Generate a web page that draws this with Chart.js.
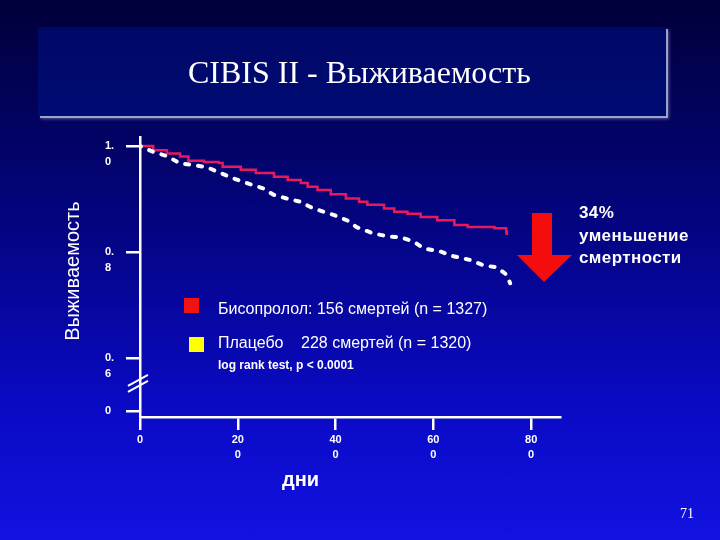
<!DOCTYPE html>
<html>
<head>
<meta charset="utf-8">
<script src="https://cdn.jsdelivr.net/npm/chart.js@4.4.0/dist/chart.umd.min.js"></script>
<style>
  html, body { margin: 0; padding: 0; }
  body {
    width: 720px; height: 540px; overflow: hidden; position: relative;
    background: linear-gradient(to bottom, #00003a 0%, #04047e 40%, #0a0ac4 75%, #1212e2 100%);
    font-family: "Liberation Sans", Arial, sans-serif; color: #fff;
  }
  #chart { position: absolute; left: 0; top: 0; z-index: 2; }
  .abs { position: absolute; white-space: pre; z-index: 3; }
  .titlebox {
    position: absolute; left: 38px; top: 27px; width: 628px; height: 89px; z-index: 1;
    background: linear-gradient(to bottom, #000866, #000c74);
    box-shadow: 2px 2px 0 #9ca2c8, 3px 3px 3px rgba(160,165,210,0.5);
  }
  .title { left: 188px; top: 54px; height: 40px; line-height: 40px; font: 32px "Liberation Serif", "Times New Roman", serif; }
  .xtitle { left: 282px; top: 467px; height: 24px; line-height: 24px; font-size: 20px; font-weight: bold; }
  .page { left: 680px; top: 506px; height: 20px; line-height: 20px; font: 14px "Liberation Serif", serif; }
  .sq { position: absolute; width: 15px; height: 15px; z-index: 3; }
  .leg { font-size: 16px; height: 20px; line-height: 20px; }
  .note { font-size: 12px; font-weight: bold; height: 14px; line-height: 14px; }
  .arrtxt { left: 579px; font-size: 17px; font-weight: bold; height: 22px; line-height: 22px; letter-spacing: 0.4px; }
  svg { position: absolute; left: 0; top: 0; z-index: 1; }
</style>
</head>
<body>
<canvas id="chart" width="720" height="540"></canvas>

<div class="titlebox"></div>
<div class="abs title">CIBIS II - Выживаемость</div>
<div class="abs xtitle">дни</div>
<div class="abs page">71</div>

<div class="sq" style="left:184px;top:298px;background:#f21212;"></div>
<div class="abs leg" style="left:218px;top:299px;">Бисопролол: 156 смертей (n = 1327)</div>
<div class="sq" style="left:189px;top:337px;background:#ffff00;"></div>
<div class="abs leg" style="left:218px;top:333px;">Плацебо</div>
<div class="abs leg" style="left:301px;top:333px;">228 смертей (n = 1320)</div>
<div class="abs note" style="left:218px;top:358px;">log rank test, p &lt; 0.0001</div>

<svg width="720" height="540">
  <polygon points="532,213 552,213 552,255 572,255 544,282 517,255 532,255" fill="#f50d0d"/>
</svg>
<div class="abs arrtxt" style="top:202px;">34%</div>
<div class="abs arrtxt" style="top:225px;">уменьшение</div>
<div class="abs arrtxt" style="top:247px;">смертности</div>

<script>
// Бисопролол (Kaplan-Meier, ступенчатая)
const bisoDays = [0, 27, 55, 82, 99, 131, 161, 169, 206, 237, 274, 302, 329, 343, 363, 390, 421, 448, 465, 499, 520, 547, 574, 608, 643, 670, 725, 749, 750];
const bisoSurv = [1.0, 0.992, 0.986, 0.98, 0.972, 0.97, 0.968, 0.961, 0.955, 0.949, 0.942, 0.936, 0.93, 0.923, 0.917, 0.909, 0.901, 0.895, 0.889, 0.882, 0.876, 0.872, 0.866, 0.86, 0.851, 0.847, 0.845, 0.838, 0.832];

// Плацебо
const placDays = [0, 27, 55, 82, 109, 137, 157, 191, 225, 252, 273, 300, 327, 355, 396, 423, 443, 477, 511, 532, 559, 580, 614, 641, 675, 702, 730, 750, 757];
const placSurv = [1.0, 0.989, 0.981, 0.967, 0.964, 0.96, 0.952, 0.939, 0.928, 0.92, 0.908, 0.901, 0.895, 0.882, 0.87, 0.86, 0.847, 0.835, 0.829, 0.828, 0.82, 0.807, 0.801, 0.792, 0.785, 0.775, 0.771, 0.757, 0.741];

// axis ticks (0.5 stands in for the broken "0")
const xTicks = [0, 200, 400, 600, 800];
const xTickLabels = [["0", ""], ["20", "0"], ["40", "0"], ["60", "0"], ["80", "0"]];
const yTicks = [0.5, 0.6, 0.8, 1.0];
const yTickLabels = [["0", ""], ["0.", "6"], ["0.", "8"], ["1.", "0"]];

const toPoints = (xs, ys) => xs.map((x, i) => ({ x, y: ys[i] }));

// the "//" break marks and the rotated y title
const axisExtras = {
    id: "axisExtras",
    afterDraw(chart) {
        const { ctx, chartArea, scales } = chart;
        const yc = scales.y.getPixelForValue(0.553);
        const x0 = chartArea.left;
        ctx.save();
        ctx.strokeStyle = "#fff";
        ctx.lineWidth = 2;
        [-3, 3].forEach((d) => {
            ctx.beginPath();
            ctx.moveTo(x0 - 12, yc + d + 6);
            ctx.lineTo(x0 + 8, yc + d - 5);
            ctx.stroke();
        });
        ctx.translate(x0 - 67, scales.y.getPixelForValue(0.764));
        ctx.rotate(-Math.PI / 2);
        ctx.fillStyle = "#fff";
        ctx.font = "20px 'Liberation Sans', Arial, sans-serif";
        ctx.textAlign = "center";
        ctx.textBaseline = "middle";
        ctx.fillText("Выживаемость", 0, 0);
        ctx.restore();
    }
};

const tickFont = { family: "'Liberation Sans', Arial, sans-serif", size: 11, weight: "bold", lineHeight: 1.4 };

new Chart(document.getElementById("chart"), {
    type: "line",
    data: {
        datasets: [
            {
                label: "Плацебо",
                data: toPoints(placDays, placSurv),
                borderColor: "#ffffff",
                borderWidth: 4,
                borderDash: [4, 9],
                borderDashOffset: 3,
                borderCapStyle: "round",
                pointRadius: 0,
                tension: 0,
                order: 0,
            },
            {
                label: "Бисопролол",
                data: toPoints(bisoDays, bisoSurv),
                borderColor: "#e81a5c",
                borderWidth: 2.5,
                stepped: "before",
                pointRadius: 0,
                order: 1,
            },
        ],
    },
    options: {
        responsive: false,
        animation: false,
        layout: { padding: { left: 105, top: 137, right: 160, bottom: 73 } },
        plugins: { legend: { display: false }, tooltip: { enabled: false } },
        scales: {
            x: {
                type: "linear",
                min: 0,
                max: 859,
                afterBuildTicks: (s) => { s.ticks = xTicks.map((v) => ({ value: v })); },
                afterFit: (s) => { s.height = 50; },
                border: { color: "#fff", width: 2.5 },
                grid: { drawOnChartArea: false, color: "#fff", lineWidth: 2.5, tickLength: 13 },
                ticks: {
                    color: "#fff",
                    font: tickFont,
                    padding: 2,
                    maxRotation: 0,
                    autoSkip: false,
                    callback: (v) => xTickLabels[xTicks.indexOf(v)],
                },
            },
            y: {
                type: "linear",
                min: 0.4887,
                max: 1.017,
                afterBuildTicks: (s) => { s.ticks = yTicks.map((v) => ({ value: v })); },
                afterFit: (s) => { s.width = 35; },
                border: { color: "#fff", width: 2.5 },
                grid: { drawOnChartArea: false, color: "#fff", lineWidth: 2.5, tickLength: 14 },
                ticks: {
                    color: "#fff",
                    font: tickFont,
                    crossAlign: "far",
                    labelOffset: 8,
                    autoSkip: false,
                    callback: (v) => yTickLabels[yTicks.indexOf(v)],
                },
            },
        },
    },
    plugins: [axisExtras],
});
</script>
</body>
</html>
